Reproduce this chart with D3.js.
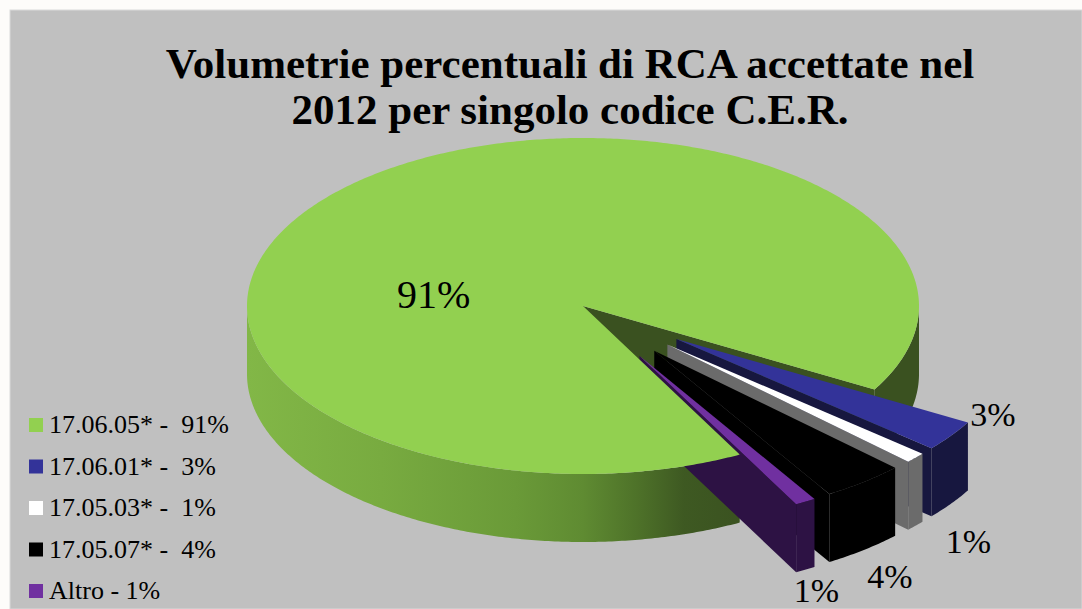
<!DOCTYPE html>
<html>
<head>
<meta charset="utf-8">
<script src="https://cdn.jsdelivr.net/npm/d3@7"></script>
<style>
  html, body { margin: 0; padding: 0; background: #fdfcfa; }
  svg { display: block; }
</style>
</head>
<body>
<svg id="chart" width="1082" height="609"></svg>
<script>
// ---- data ----
const categories   = ["17.06.05*", "17.06.01*", "17.05.03*", "17.05.07*", "Altro"];
const percentages  = [91, 3, 1, 4, 1];
const legendLabels = ["17.06.05* -  91%", "17.06.01* -  3%", "17.05.03* -  1%", "17.05.07* -  4%", "Altro - 1%"];
const valueLabels  = ["91%", "3%", "1%", "4%", "1%"];
const exploded     = [false, true, true, true, true];

// ---- styles ----
const serif = '"Liberation Serif", "Times New Roman", Tinos, serif';
const topColors  = ["#92d050", "#333399", "#ffffff", "#000000", "#7030a0"];
const sideColors = ["#3a5120", "#17173f", "#6b6b6b", "#000000", "#2d1244"];
const titleLines = ["Volumetrie percentuali di RCA accettate nel", "2012 per singolo codice C.E.R."];

// ---- layout ----
const W = 1082, H = 609;
const cx = 583, cy = 306, rx = 336, ry = 168, depth = 68;
const explodeDist = 0.34;
const startDeg = 152.2;
// label nudges (px) from the slice's rim anchor point
const labelNudge = [[84, 123], [42, -10], [53, 95], [26, 106], [11, 100]];
const labelSize  = [40, 34, 34, 34, 34];

const svg = d3.select("#chart");

// panel background
svg.append("rect").attr("x", 10).attr("y", 10).attr("width", W - 10).attr("height", H - 10)
  .attr("fill", "#c0c0c0").attr("stroke", "#d9d9d9").attr("stroke-width", 1);

// wall gradient for the big slice (lit from the left)
const defs = svg.append("defs");
const grad = defs.append("linearGradient").attr("id", "wallGreen")
  .attr("gradientUnits", "userSpaceOnUse")
  .attr("x1", cx - rx).attr("y1", 0).attr("x2", cx + rx).attr("y2", 0);
[[0, "#82b747"], [0.2, "#78ab40"], [0.4, "#6a9a38"], [0.5, "#5f8b32"],
 [0.58, "#4e7229"], [0.65, "#3e5922"], [0.75, "#3a5120"], [1, "#3a5120"]]
  .forEach(([o, c]) => grad.append("stop").attr("offset", o).attr("stop-color", c));

// title
svg.append("g").selectAll("text").data(titleLines).join("text")
  .attr("x", 570).attr("y", (d, i) => 78 + i * 46)
  .attr("text-anchor", "middle").attr("font-weight", "bold").attr("font-size", 43)
  .style("font-family", serif).attr("fill", "#000").text(d => d);

// pie layout
const pie = d3.pie().sort(null)
  .startAngle(startDeg * Math.PI / 180)
  .endAngle(startDeg * Math.PI / 180 + 2 * Math.PI);
const arcs = pie(percentages).map((d, i) => {
  const mid = (d.startAngle + d.endAngle) / 2;
  const e = exploded[i] ? explodeDist : 0;
  return Object.assign(d, { i, mid, ox: e * Math.sin(mid), oy: -e * Math.cos(mid), e });
});

// projection of (angle, radius fraction, height) into screen space
const xS = d3.scaleLinear().domain([-1, 1]).range([cx - rx, cx + rx]);
const yS = d3.scaleLinear().domain([-1, 1]).range([cy - ry, cy + ry]);
function P(d, a, r, z) {
  return [xS(r * Math.sin(a) + d.ox), yS(-r * Math.cos(a) + d.oy) + z];
}
function arcPts(d, a0, a1, z) {
  const n = Math.max(2, Math.ceil(Math.abs(a1 - a0) / 0.01));
  return d3.range(n + 1).map(k => P(d, a0 + (a1 - a0) * k / n, 1, z));
}
const line = d3.line();

function frontRanges(a0, a1) {
  const out = [];
  for (let k = -1; k <= 2; k++) {
    const lo = Math.PI / 2 + 2 * Math.PI * k, hi = 3 * Math.PI / 2 + 2 * Math.PI * k;
    const s = Math.max(a0, lo), t = Math.min(a1, hi);
    if (t > s) out.push([s, t]);
  }
  return out;
}

function drawWalls(g, d) {
  const wallFill = d.i === 0 ? "url(#wallGreen)" : sideColors[d.i];
  // radial walls facing the viewer
  [[d.startAngle, -Math.sin(d.startAngle)], [d.endAngle, Math.sin(d.endAngle)]].forEach(([a, facing]) => {
    if (facing <= 0) return;
    const pts = [P(d, a, 0, 0), P(d, a, 1, 0), P(d, a, 1, depth), P(d, a, 0, depth)];
    g.append("path").attr("d", line(pts) + "Z").attr("fill", sideColors[d.i]);
  });
  // outer curved wall
  frontRanges(d.startAngle, d.endAngle).forEach(([s, t]) => {
    const pts = arcPts(d, s, t, 0).concat(arcPts(d, t, s, depth));
    g.append("path").attr("d", line(pts) + "Z").attr("fill", wallFill);
  });
}
function drawTop(g, d) {
  const top = [P(d, 0, 0, 0)].concat(arcPts(d, d.startAngle, d.endAngle, 0));
  g.append("path").attr("d", line(top) + "Z").attr("fill", topColors[d.i]);
}

// walls first (big slice, then pulled-out ones), big top face, then the small top faces
const gPie = svg.append("g");
const main = arcs[0];
const rest = arcs.slice(1);
drawWalls(gPie.append("g"), main);
rest.forEach(d => drawWalls(gPie.append("g"), d));
drawTop(gPie.append("g"), main);
rest.forEach(d => drawTop(gPie.append("g"), d));

// value labels
svg.append("g").selectAll("text").data(arcs).join("text")
  .attr("x", d => P(d, d.mid, 1, 0)[0] + labelNudge[d.i][0])
  .attr("y", d => P(d, d.mid, 1, 0)[1] + labelNudge[d.i][1])
  .attr("text-anchor", "middle").attr("font-size", d => labelSize[d.i])
  .style("font-family", serif).attr("fill", "#000").text(d => valueLabels[d.i]);

// legend
const legend = svg.append("g").attr("transform", "translate(29,418)");
const row = legend.selectAll("g").data(legendLabels).join("g")
  .attr("transform", (d, i) => `translate(0,${i * 41.5})`);
row.append("rect").attr("width", 14).attr("height", 14)
  .attr("fill", (d, i) => topColors[i]);
row.append("text").attr("x", 20).attr("y", 15).attr("font-size", 26)
  .style("font-family", serif).attr("fill", "#000")
  .style("white-space", "pre").text(d => d);
</script>
</body>
</html>
